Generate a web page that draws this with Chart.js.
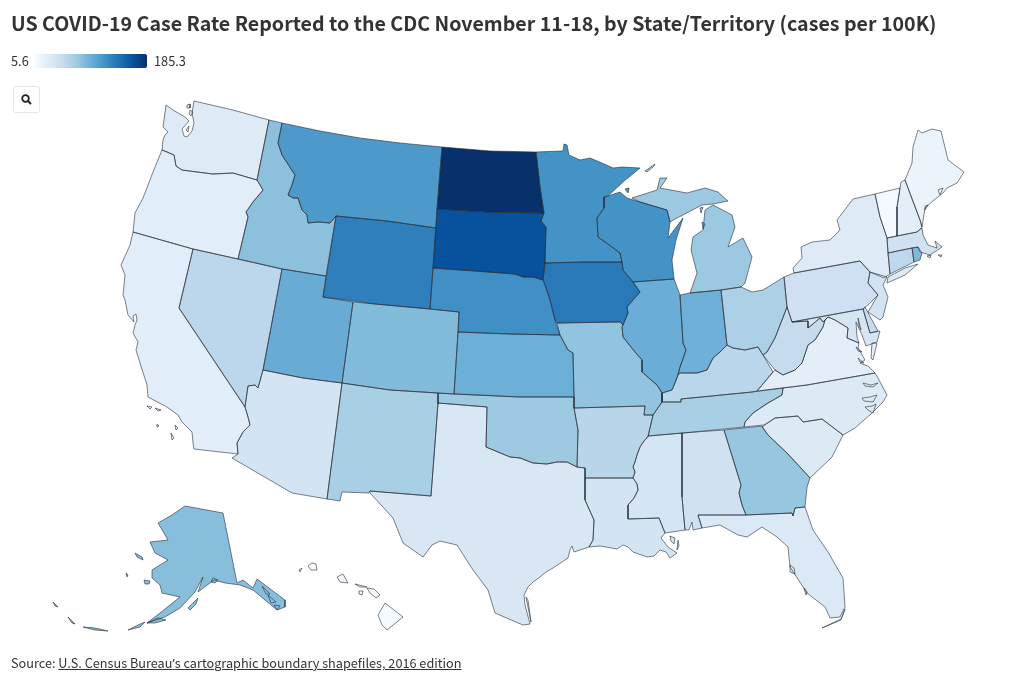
<!DOCTYPE html>
<html>
<head>
<meta charset="utf-8">
<title>US COVID-19 Case Rate</title>
<script src="https://cdn.jsdelivr.net/npm/chart.js@4"></script>
<style>
    html, body { margin: 0; padding: 0; background: #fff; }
    body { width: 1020px; height: 682px; position: relative; overflow: hidden; font-family: "Noto Sans CJK SC", "Noto Sans", sans-serif; color: #333; }
    #mapWrap { position: absolute; left: 0; top: 0; width: 1020px; height: 682px; }
    #title { position: absolute; left: 11px; top: 8px; font-size: 19.63px; line-height: 30px; font-weight: 700; white-space: nowrap; }
    #legendMin, #legendMax { position: absolute; top: 52px; font-size: 12.8px; line-height: 18px; }
    #legendMin { left: 11px; }
    #legendMax { left: 154px; }
    #legendBar { position: absolute; left: 35px; top: 54px; width: 112px; height: 14px; border-radius: 0 2px 2px 0; }
    #zoomBtn { position: absolute; left: 13px; top: 86px; width: 25px; height: 25px; border: 1.5px solid #e6e6e6; border-radius: 3px; background: #fff; }
    #zoomBtn svg { position: absolute; left: 7px; top: 7px; }
    #source { position: absolute; left: 11px; top: 654px; font-size: 12.7px; line-height: 18px; white-space: nowrap; }
    #source a { color: #333; text-decoration: underline; }
    #source span { font-family: "Noto Sans", sans-serif; }
</style>
</head>
<body>
<div id="mapWrap"><canvas id="map" width="1020" height="682"></canvas></div>
<div id="title">US COVID-19 Case Rate Reported to the CDC November 11-18, by State/Territory (cases per 100K)</div>
<div id="legendMin">5.6</div>
<div id="legendBar"></div>
<div id="legendMax">185.3</div>
<div id="zoomBtn"><svg width="11" height="11" viewBox="0 0 11 11"><circle cx="4.5" cy="4.5" r="3.3" fill="none" stroke="#222" stroke-width="1.8"/><path d="M7 7 L10 10" stroke="#222" stroke-width="2"/></svg></div>
<div id="source">Source: <a href="#">U.S. Census Bureau<span>’</span>s cartographic boundary shapefiles, 2016 edition</a></div>

<script>
// Weekly rate per 100K
const stateNames = ['Washington','Oregon','California','Nevada','Idaho','Montana','North Dakota','South Dakota','Wyoming','Nebraska','Colorado','Utah','Kansas','Oklahoma','New Mexico','Arizona','Texas','Louisiana','Arkansas','Missouri','Iowa','Minnesota','Wisconsin','Illinois','Indiana','Michigan','Ohio','Pennsylvania','New York','Vermont','New Hampshire','Maine','Massachusetts','Connecticut','Rhode Island','New Jersey','Delaware','Maryland','West Virginia','Virginia','Kentucky','Tennessee','North Carolina','South Carolina','Georgia','Alabama','Mississippi','Florida','Alaska','Hawaii'];
const stateRates = [28,25,25,56,81,112,185.3,163,131,119,85,97,95,73,67,38,33,38,58,78,135,117,117,96,94,74,65,43,28,9,24,16,41,54,87,39,50,36,50,24,57,67,30,30,76,41,37,31,83,7];

const rateMin = 5.6;
const rateMax = 185.3;
const blues = ['#f7fbff','#deebf7','#c6dbef','#9ecae1','#6baed6','#4292c6','#2171b5','#08519c','#08306b'];

// Outlines in map units, one or more rings per state, same order as stateNames
const stateOutlines = [
    [[166,105,173,110,185,117,189,121,182,129,184,136,187,137,192,131,194,123,192,113,194,101,233,110,269,120,257,180,233,173,213,174,197,172,182,170,176,166,174,155,167,152,162,150,163,140,165,135,168,132,163,127],[187,105,190,104,190,108,187,108],[190,110,193,112,191,116,189,114],[186,130,189,126,188,132]],
    [[162,150,167,152,174,155,176,166,182,170,197,172,213,174,233,173,257,180,263,190,253,202,246,212,248,217,238,259,193,249,133,232,135,213,143,198,153,172]],
    [[133,232,193,249,179,308,245,407,248,417,250,425,243,432,237,443,238,454,194,449,193,443,192,432,182,422,178,415,167,407,148,397,147,385,140,363,136,350,138,342,133,333,135,325,137,320,136,314,133,316,134,322,128,315,125,300,123,295,125,275,121,265,130,245],[147,406,152,407,150,409],[155,408,161,410,158,411],[157,424,159,426,157,427],[175,425,178,428,176,430],[171,433,174,438,172,440]],
    [[193,249,238,259,282,269,263,370,258,388,255,385,248,386,245,407,179,308]],
    [[269,120,282,123,278,143,282,155,295,175,292,185,288,195,293,198,298,198,302,210,307,215,308,223,318,222,330,223,336,216,326,276,282,269,238,259,248,217,246,212,253,202,263,190,257,180]],
    [[282,123,320,131,360,138,400,143,442,147,437,209,436,228,387,221,336,216,330,223,318,222,308,223,307,215,302,210,298,198,293,198,288,195,292,185,295,175,282,155,278,143]],
    [[442,147,490,151,536,152,537,160,540,187,544,213,487,212,437,209]],
    [[437,209,487,212,544,213,541,221,546,227,545,263,543,280,533,277,523,277,515,274,475,271,433,268]],
    [[336,216,387,221,436,228,433,268,430,309,375,304,323,297]],
    [[433,268,475,271,515,274,523,277,533,277,543,280,545,285,550,300,555,320,560,335,510,334,458,332,459,312,430,309]],
    [[353,302,375,304,430,309,459,312,458,332,454,394,438,393,390,390,342,383]],
    [[282,269,326,276,323,297,353,302,342,383,303,378,263,370]],
    [[458,332,510,334,560,335,568,350,573,353,574,397,520,397,454,394]],
    [[438,393,454,394,520,397,574,397,574,408,578,430,577,467,567,462,557,462,547,464,533,463,520,458,510,457,498,452,486,447,487,407,438,403]],
    [[342,383,390,390,438,393,438,404,431,496,370,491,369,493,342,492,340,501,327,499]],
    [[263,370,303,378,342,383,327,499,292,493,232,458,238,454,237,443,243,432,250,425,248,417,245,407,248,386,255,385,258,388]],
    [[438,403,487,407,486,447,498,452,510,457,520,458,533,463,547,464,557,462,567,462,577,467,585,468,585,500,594,520,593,540,589,547,580,550,574,552,572,546,570,550,568,558,553,568,546,572,540,577,533,582,528,587,524,595,525,605,530,624,523,625,495,613,488,590,473,570,457,545,440,541,432,545,423,557,403,543,393,518,370,493,370,491,431,496],[526,597,531,622,528,600]],
    [[585,478,633,478,637,484,638,490,634,498,628,505,628,519,659,518,665,533,661,538,668,547,677,553,670,558,666,552,660,550,654,556,647,557,633,552,628,547,623,545,617,549,600,546,589,547,593,540,594,520,585,500],[670,536,675,538,674,544,671,541],[678,540,679,546,677,550]],
    [[574,408,645,406,644,415,653,415,648,437,644,441,640,447,637,455,635,462,633,467,635,472,633,478,585,478,585,468,577,467,578,430]],
    [[557,323,620,322,623,325,622,327,623,337,635,352,642,360,642,372,657,385,662,393,662,402,653,415,644,415,645,406,574,408,574,397,573,353,568,350,560,335]],
    [[545,263,585,262,622,262,623,270,633,282,640,292,633,300,627,307,628,313,623,325,620,322,557,323,555,320,550,300,545,285,543,280]],
    [[536,152,563,151,564,144,567,145,569,155,580,160,590,158,602,163,613,168,622,167,640,168,623,182,608,196,604,197,604,208,597,218,598,237,612,247,620,253,622,262,585,262,545,263,546,227,541,221,544,213,540,187,537,160]],
    [[604,197,608,196,620,192,627,198,640,202,667,210,670,222,668,238,683,218,676,240,672,260,674,279,633,282,623,270,622,262,620,253,612,247,598,237,597,218,604,208],[625,189,629,188,628,193]],
    [[633,282,674,279,680,295,683,343,686,350,680,367,678,375,675,383,672,390,662,393,657,385,642,372,642,360,635,352,623,337,622,327,623,325,628,313,627,307,633,300,640,292]],
    [[680,295,690,293,721,290,727,345,720,352,713,358,707,370,697,373,680,373,678,375,680,367,686,350,683,343]],
    [[690,293,697,273,691,250,693,237,703,230,705,210,713,205,732,215,735,227,728,247,743,238,752,257,745,283,741,287,721,290],[632,198,657,190,660,178,667,178,660,188,687,193,705,188,718,192,728,201,713,204,702,205,677,218,670,222,667,210,640,202],[645,171,655,164,654,166,647,172],[700,208,703,207,701,213],[702,222,705,224,703,229]],
    [[721,290,741,287,752,292,763,290,784,277,787,307,775,338,767,352,763,355,758,347,745,350,733,348,727,345]],
    [[784,277,794,273,860,261,870,272,868,283,878,295,868,305,863,309,792,322,787,307]],
    [[794,273,793,268,802,258,801,247,812,242,830,240,840,230,837,220,853,199,875,194,880,217,887,238,888,253,890,274,884,278,870,272,860,261],[887,283,905,275,918,264,905,268,888,277]],
    [[875,194,900,188,897,207,897,236,887,238,880,217]],
    [[900,188,901,182,905,180,920,220,922,227,917,232,897,236,897,207]],
    [[905,180,912,163,913,147,918,130,922,133,932,129,941,131,948,160,964,172,957,183,947,188,943,193,934,200,925,208,922,227,920,220],[938,190,943,188,940,195],[925,206,928,205,925,210]],
    [[887,238,897,236,917,232,922,228,923,235,928,245,937,248,935,241,942,247,930,255,920,252,918,247,912,248,888,253],[927,256,931,255,930,258],[938,255,942,255,941,257]],
    [[888,253,912,248,914,262,890,274]],
    [[912,248,918,247,922,253,920,260,914,262]],
    [[870,272,887,277,883,285,888,297,883,317,880,320,868,312,878,295,868,283]],
    [[863,309,865,307,878,331,870,333]],
    [[792,322,863,309,870,333,880,331,877,342,866,346,862,335,856,322,857,337,859,343,847,338,848,328,835,320,828,317,823,322,820,318,808,328,808,321],[858,318,861,330,859,326]],
    [[787,307,792,322,808,321,808,328,820,318,823,322,828,317,825,320,823,327,815,340,808,345,802,363,795,370,783,375,775,370,763,355,767,352,775,338]],
    [[757,391,773,372,775,370,783,375,795,370,802,363,808,345,815,340,823,327,825,320,828,317,835,320,848,328,847,338,859,343,858,348,865,360,860,363,868,366,875,373,807,385],[872,343,877,343,873,360,871,358],[856,347,862,352,858,351],[858,358,864,363,860,362]],
    [[662,402,681,402,681,399,752,392,757,391,773,372,763,355,758,347,745,350,733,348,727,345,720,352,713,358,707,370,697,373,680,373,678,375,675,383,672,390,662,393]],
    [[662,402,681,402,681,399,752,392,783,388,782,395,768,403,753,413,745,422,744,427,683,433,648,436,653,415]],
    [[783,388,807,385,875,373,878,378,887,395,883,402,872,413,855,428,843,435,822,419,803,422,798,416,775,418,764,425,744,427,745,422,753,413,768,403,782,395],[863,383,871,385,878,383,873,387,865,386],[862,398,870,397,877,395,873,402,864,401],[865,407,872,406,876,404,873,413,868,410]],
    [[762,427,775,418,798,416,803,422,822,419,843,435,837,447,832,457,810,478,800,467,787,453,768,435]],
    [[724,430,762,426,768,435,787,453,800,467,810,478,807,487,805,507,795,508,793,516,792,513,746,515,742,505,739,493,741,485]],
    [[682,433,724,430,741,485,739,493,742,505,746,515,698,515,702,528,693,530,692,522,689,530,685,530,682,497]],
    [[648,436,682,433,682,497,685,530,665,533,659,518,628,519,628,505,634,498,638,490,637,484,633,478,635,472,633,467,635,462,637,455,640,447,644,441]],
    [[698,515,746,515,792,513,793,516,795,508,805,507,813,530,828,552,843,578,845,607,840,617,830,618,825,607,807,593,790,567,788,547,777,537,762,527,747,537,738,535,720,525,702,528],[845,609,841,619,822,628,841,620],[790,565,794,568,795,574,790,572],[804,588,807,592,806,595]],
    [[185,506,223,513,237,583,243,580,253,588,257,579,285,600,285,607,277,610,253,590,240,585,225,583,214,580,198,592,203,577,195,592,180,608,165,617,147,623,160,613,180,597,162,593,160,585,152,578,152,570,168,560,155,553,150,542,168,540,158,523,172,515],[188,608,198,598,196,604,190,610],[144,580,150,581,149,584,145,584],[135,553,142,557,143,560,137,557],[126,573,128,575,127,577],[128,630,138,625,145,622,140,627],[83,627,95,628,108,631,95,630],[68,617,75,624,72,623],[53,602,58,607,55,606],[147,623,158,618,166,620,155,623],[213,578,218,580,215,583,211,582],[262,586,270,594,266,594],[268,595,276,602,271,603],[274,605,280,606,277,610]],
    [[385,603,403,617,387,630,382,625,378,615],[367,588,374,589,380,595,376,598,370,593],[337,577,343,574,348,583,340,582],[312,563,316,564,317,570,311,570,308,566],[355,584,367,587,360,587],[359,591,363,591,362,595,359,594],[299,570,302,568,300,572]]
];

function hexToRgb(hex) {
    return [1, 3, 5].map(i => parseInt(hex.slice(i, i + 2), 16));
}

// Same ramp as the legend bar
function rateColor(rate) {
    const t = (rate - rateMin) / (rateMax - rateMin) * (blues.length - 1);
    const i = Math.min(Math.floor(t), blues.length - 2);
    const a = hexToRgb(blues[i]);
    const b = hexToRgb(blues[i + 1]);
    const rgb = a.map((v, k) => Math.round(v + (b[k] - v) * (t - i)));
    return `rgb(${rgb[0]}, ${rgb[1]}, ${rgb[2]})`;
}

function ringToPoints(ring) {
    const points = [];
    for (let i = 0; i < ring.length; i += 2) {
        points.push({ x: ring[i], y: ring[i + 1] });
    }
    points.push({ x: ring[0], y: ring[1] }); // close the ring
    return points;
}

const datasets = [];
stateNames.forEach((name, s) => {
    stateOutlines[s].forEach(ring => {
        datasets.push({
            label: name,
            data: ringToPoints(ring),
            showLine: true,
            fill: 'shape',
            backgroundColor: rateColor(stateRates[s]),
            borderColor: 'rgba(35, 42, 52, 0.58)',
            borderWidth: 1,
            borderJoinStyle: 'round',
            pointRadius: 0,
            pointHoverRadius: 0,
            tension: 0
        });
    });
});

document.getElementById('legendBar').style.background = `linear-gradient(to right, ${blues.join(',')})`;

new Chart(document.getElementById('map').getContext('2d'), {
    type: 'scatter',
    data: { datasets },
    options: {
        responsive: false,
        animation: false,
        layout: { padding: 0 },
        plugins: {
            legend: { display: false },
            title: { display: false },
            filler: { drawTime: 'beforeDatasetsDraw' }
        },
        scales: {
            x: { type: 'linear', min: 0, max: 1020, display: false },
            y: { type: 'linear', min: 0, max: 682, reverse: true, display: false }
        }
    }
});
</script>
</body>
</html>
